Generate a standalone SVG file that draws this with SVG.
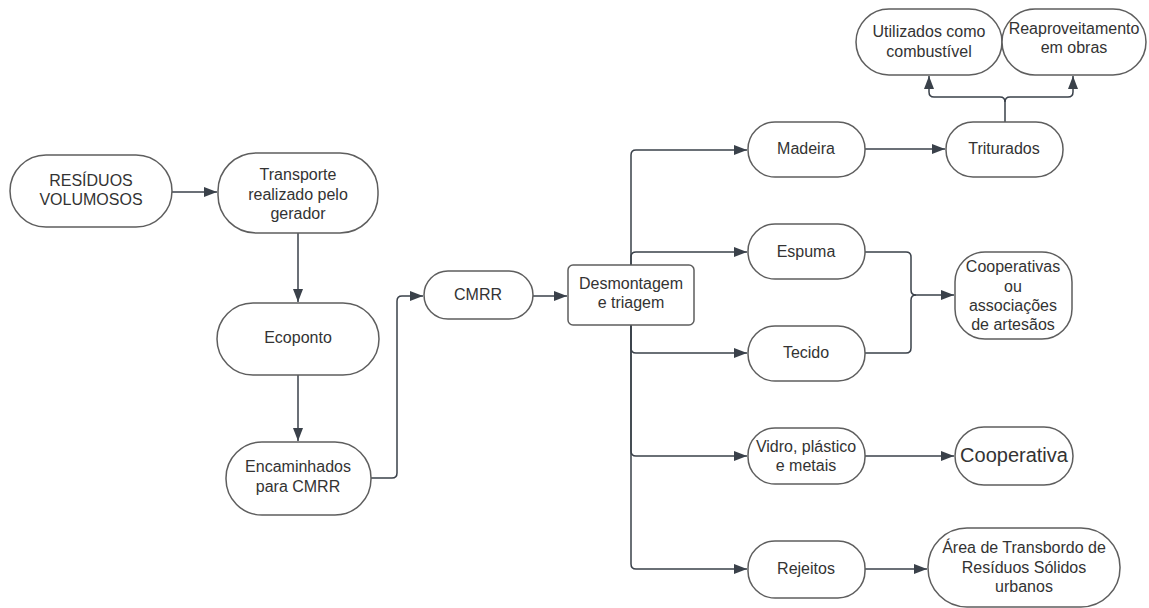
<svg xmlns="http://www.w3.org/2000/svg" width="1149" height="608" viewBox="0 0 1149 608">
<style>
.n{fill:#fff;stroke:#5e5e5e;stroke-width:1.5}
.t{font-family:"Liberation Sans",Arial,sans-serif;font-size:16px;fill:#333;text-anchor:middle}
.c{fill:none;stroke:#3a414a;stroke-width:1.5}
</style>
<defs>
<marker id="a" markerUnits="userSpaceOnUse" markerWidth="14" markerHeight="12" refX="13" refY="6" orient="auto">
<path d="M0,1 L13,6 L0,11 Z" fill="#3a414a"/>
</marker>
</defs>
<rect width="1149" height="608" fill="#fff"/>
<g id="connectors">
<path class="c" d="M172,192 H217" marker-end="url(#a)"/>
<path class="c" d="M298,233 V302" marker-end="url(#a)"/>
<path class="c" d="M298,375 V441" marker-end="url(#a)"/>
<path class="c" d="M371,478 H392 Q397,478 397,473 V301 Q397,296 402,296 H423" marker-end="url(#a)"/>
<path class="c" d="M533,296 H567" marker-end="url(#a)"/>
<path class="c" d="M631,265 V155 Q631,150 636,150 H747" marker-end="url(#a)"/>
<path class="c" d="M631,265 V257 Q631,252 636,252 H747" marker-end="url(#a)"/>
<path class="c" d="M631,325 V348 Q631,353 636,353 H747" marker-end="url(#a)"/>
<path class="c" d="M631,325 V451 Q631,456 636,456 H747" marker-end="url(#a)"/>
<path class="c" d="M631,325 V564 Q631,569 636,569 H747" marker-end="url(#a)"/>
<path class="c" d="M865,149 H945" marker-end="url(#a)"/>
<path class="c" d="M1005,122 V102 Q1005,97 1000,97 H934 Q929,97 929,92 V76" marker-end="url(#a)"/>
<path class="c" d="M1005,102 Q1005,97 1010,97 H1068 Q1073,97 1073,92 V76" marker-end="url(#a)"/>
<path class="c" d="M865,252 H906 Q911,252 911,257 V290 Q911,295 916,295 H954" marker-end="url(#a)"/>
<path class="c" d="M865,353 H906 Q911,353 911,348 V300 Q911,295 916,295"/>
<path class="c" d="M865,456 H954" marker-end="url(#a)"/>
<path class="c" d="M865,569 H927" marker-end="url(#a)"/>
</g>
<g id="residuos"><rect class="n" x="10" y="155" width="162" height="72" rx="36"/><text class="t" x="91" y="186">RESÍDUOS</text><text class="t" x="91" y="205">VOLUMOSOS</text></g>
<g id="transporte"><rect class="n" x="218" y="153" width="160" height="80" rx="38"/><text class="t" x="298" y="180">Transporte</text><text class="t" x="298" y="200">realizado pelo</text><text class="t" x="298" y="219">gerador</text></g>
<g id="ecoponto"><rect class="n" x="217" y="303" width="162" height="72" rx="36"/><text class="t" x="298" y="343">Ecoponto</text></g>
<g id="encaminhados"><rect class="n" x="226" y="442" width="145" height="73" rx="36"/><text class="t" x="298" y="472">Encaminhados</text><text class="t" x="298" y="492">para CMRR</text></g>
<g id="cmrr"><rect class="n" x="424" y="271" width="109" height="48" rx="24"/><text class="t" x="478" y="300">CMRR</text></g>
<g id="desmontagem"><rect class="n" x="568" y="265" width="126" height="60" rx="5"/><text class="t" x="631" y="289">Desmontagem</text><text class="t" x="631" y="308">e triagem</text></g>
<g id="madeira"><rect class="n" x="748" y="122" width="117" height="55" rx="27"/><text class="t" x="806" y="154">Madeira</text></g>
<g id="espuma"><rect class="n" x="748" y="224" width="117" height="55" rx="27"/><text class="t" x="806" y="257">Espuma</text></g>
<g id="tecido"><rect class="n" x="748" y="326" width="117" height="55" rx="27"/><text class="t" x="806" y="358">Tecido</text></g>
<g id="vidro"><rect class="n" x="748" y="428" width="117" height="56" rx="27"/><text class="t" x="806" y="452">Vidro, plástico</text><text class="t" x="806" y="471">e metais</text></g>
<g id="rejeitos"><rect class="n" x="748" y="541" width="117" height="57" rx="27"/><text class="t" x="806" y="574">Rejeitos</text></g>
<g id="triturados"><rect class="n" x="946" y="122" width="117" height="55" rx="27"/><text class="t" x="1004" y="154">Triturados</text></g>
<g id="utilizados"><rect class="n" x="856" y="9" width="146" height="66" rx="33"/><text class="t" x="929" y="37">Utilizados como</text><text class="t" x="929" y="57">combustível</text></g>
<g id="reaproveitamento"><rect class="n" x="1002" y="9" width="144" height="66" rx="33"/><text class="t" x="1074" y="34">Reaproveitamento</text><text class="t" x="1074" y="53">em obras</text></g>
<g id="cooperativas"><rect class="n" x="955" y="252" width="117" height="87" rx="30"/><text class="t" x="1013" y="272">Cooperativas</text><text class="t" x="1013" y="292">ou</text><text class="t" x="1013" y="311">associações</text><text class="t" x="1013" y="330">de artesãos</text></g>
<g id="cooperativa"><rect class="n" x="955" y="427" width="118" height="58" rx="29"/><text class="t" x="1014" y="462" style="font-size:20px">Cooperativa</text></g>
<g id="area"><rect class="n" x="928" y="528" width="192" height="79" rx="39"/><text class="t" x="1024" y="553">Área de Transbordo de</text><text class="t" x="1024" y="573">Resíduos Sólidos</text><text class="t" x="1024" y="592">urbanos</text></g>
</svg>
